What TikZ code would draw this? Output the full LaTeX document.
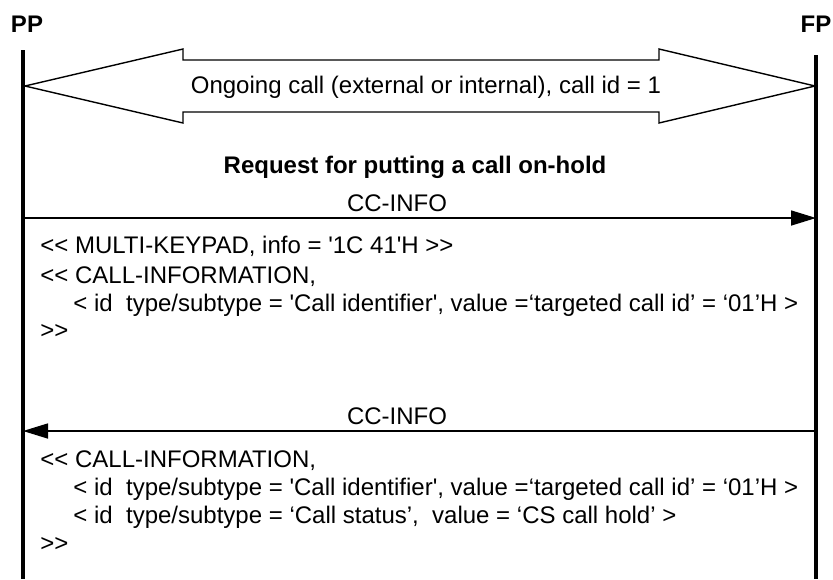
\documentclass[tikz,border=0pt]{standalone}
\usepackage{fontspec}
\newfontfamily\diafont{Liberation Sans}
\usetikzlibrary{arrows.meta}

\begin{document}
\begin{tikzpicture}[x=0.5pt,y=-0.5pt,
		every node/.style={inner sep=0pt,font=\diafont\fontsize{12}{14}\selectfont},
		boldtext/.style={font=\diafont\bfseries\fontsize{12}{14}\selectfont},
		lifeline/.style={line width=1.6pt},
		msg/.style={line width=0.8pt,-{Triangle[length=12.5pt,width=7.5pt]}},
		txtline/.style={anchor=base west}]
				\useasboundingbox (0,0) rectangle (833,579);
				% entities
				\node (pp) at (27,32) [anchor=base,boldtext] {PP};
				\node (fp) at (816,32) [anchor=base,boldtext] {FP};
				\coordinate (ppTop) at (23,50);
				\coordinate (ppBot) at (23,579);
				\coordinate (fpTop) at (816,55);
				\coordinate (fpBot) at (816,579);
				\draw [lifeline] (ppTop) -- (ppBot);
				\draw [lifeline] (fpTop) -- (fpBot);
				% ongoing call
				\draw [line width=0.7pt] (25,86) -- (183,49) -- (183,60) -- (659,60) -- (659,49) -- (815,86)
					-- (659,123) -- (659,112) -- (183,112) -- (183,123) -- cycle;
				\node (call) at (426,93) [anchor=base] {Ongoing call (external or internal), call id = 1};
				\node (req) at (415,173) [anchor=base,boldtext] {Request for putting a call on-hold};
				% first CC-INFO
				\coordinate (pp1) at (23,218);
				\coordinate (fp1) at (816,218);
				\draw [msg] (pp1) -- (fp1);
				\node (info1) at (397,211) [anchor=base] {CC-INFO};
				\node (keypad) at (40,253) [txtline] {<< MULTI-KEYPAD, info = '1C 41'H >>};
				\node (ci1) at (40,283) [txtline] {<< CALL-INFORMATION,};
				\node (id1) at (73,311) [txtline] {< id\ \ type/subtype = 'Call identifier', value =‘targeted call id’ = ‘01’H >};
				\node (end1) at (40,338) [txtline] {>>};
				% second CC-INFO
				\coordinate (fp2) at (816,431);
				\coordinate (pp2) at (23,431);
				\draw [msg] (fp2) -- (pp2);
				\node (info2) at (397,424) [anchor=base] {CC-INFO};
				\node (ci2) at (40,467) [txtline] {<< CALL-INFORMATION,};
				\node (id2) at (73,495) [txtline] {< id\ \ type/subtype = 'Call identifier', value =‘targeted call id’ = ‘01’H >};
				\node (st2) at (73,523) [txtline] {< id\ \ type/subtype = ‘Call status’,\ \ value = ‘CS call hold’ >};
				\node (end2) at (40,551) [txtline] {>>};
			\end{tikzpicture}
\end{document}
